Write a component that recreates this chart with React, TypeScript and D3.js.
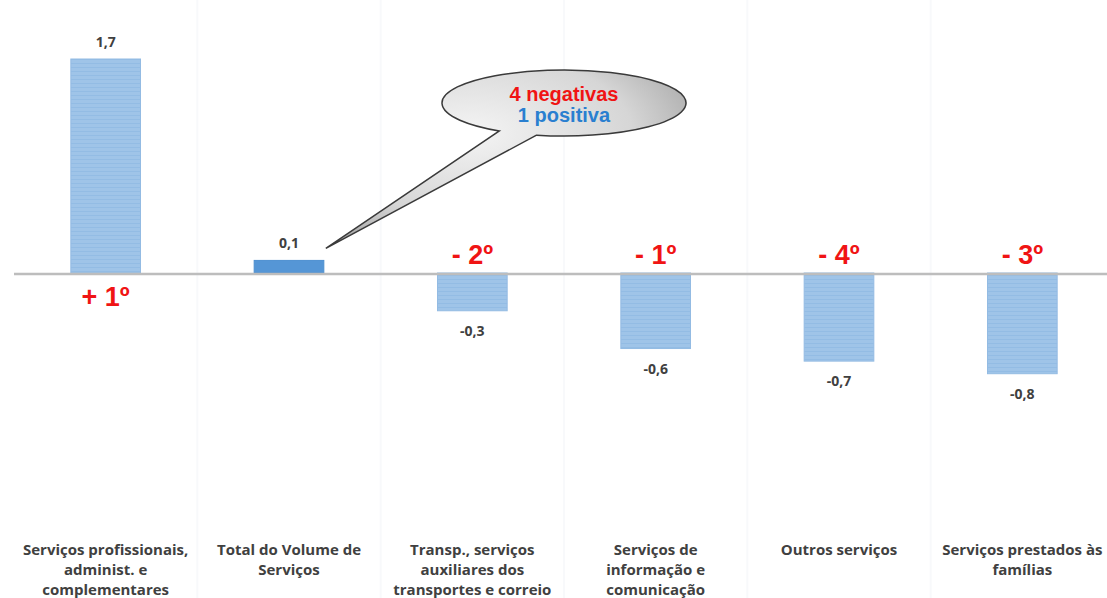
import React from 'react'
import * as d3 from 'd3'

const categories = [
  ['Serviços profissionais,', 'administ. e', 'complementares'],
  ['Total do Volume de', 'Serviços'],
  ['Transp., serviços', 'auxiliares dos', 'transportes e correio'],
  ['Serviços de', 'informação e', 'comunicação'],
  ['Outros serviços'],
  ['Serviços prestados às', 'famílias']
]
const values = [1.7, 0.1, -0.3, -0.6, -0.7, -0.8]
const ranks = ['+ 1º', '', '- 2º', '- 1º', '- 4º', '- 3º']
const totalIndex = 1
const calloutLines = [
  { text: '4 negativas', color: '#f01414' },
  { text: '1 positiva', color: '#2a7fd0' }
]

const W = 1107
const H = 598
const fmt = (v: number) => d3.format('.1f')(v).replace('.', ',').replace('−', '-')

export default function App() {
  const ids = categories.map((_, i) => String(i))
  const x = d3.scaleBand<string>()
    .domain(ids)
    .range([14, 1114])
    .paddingInner(0.62)
    .paddingOuter(0.31)
  const y = d3.scaleLinear().domain([0, 1.7]).range([273, 59])
  const bw = x.bandwidth()
  const step = x.step()

  // callout balloon: ellipse with tail pointing to the total bar label
  const cx = 564, cy = 103, rx = 122, ry = 33
  const pt = (deg: number) => {
    const a = (deg * Math.PI) / 180
    return [cx + rx * Math.cos(a), cy + ry * Math.sin(a)]
  }
  const b1 = pt(122)
  const b2 = pt(103)
  const tip = [x('1')! + bw + 2, y(0.1) - 12]
  const balloon = `M${b2[0]},${b2[1]} L${tip[0]},${tip[1]} L${b1[0]},${b1[1]} A${rx},${ry} 0 1 1 ${b2[0]},${b2[1]} Z`

  return (
    <div style={{ position: 'absolute', left: 0, top: 0 }}>
      <svg width={W} height={H} style={{ display: 'block', background: '#fff' }}>
        <defs>
          <pattern id="stripes" width="8" height="4" patternUnits="userSpaceOnUse">
            <rect width="8" height="4" fill="#9fc4e8" />
            <rect y="3" width="8" height="1" fill="#93bce4" />
          </pattern>
          <radialGradient id="balloonFill" cx="0.4" cy="0.35" r="0.75">
            <stop offset="0" stopColor="#f4f4f4" />
            <stop offset="0.6" stopColor="#d6d6d6" />
            <stop offset="1" stopColor="#9c9c9c" />
          </radialGradient>
        </defs>

        {/* faint column separators */}
        {ids.slice(1).map(id => (
          <line key={id} x1={x(id)! - (step - bw) / 2} x2={x(id)! - (step - bw) / 2}
            y1={0} y2={H} stroke="#f8f9fb" strokeWidth={2} />
        ))}

        {values.map((v, i) => {
          const id = String(i)
          const top = Math.min(y(v), y(0))
          const h = Math.abs(y(v) - y(0))
          return (
            <rect key={id} x={x(id)} y={top} width={bw} height={h}
              fill={i === totalIndex ? '#5596d6' : 'url(#stripes)'}
              stroke={i === totalIndex ? '#4d8fd0' : '#93bbe3'} strokeWidth={1} />
          )
        })}

        <line x1={14} x2={W} y1={y(0) + 1} y2={y(0) + 1} stroke="#bdbdbd" strokeWidth={2.5} />

        {values.map((v, i) => {
          const id = String(i)
          const cxb = x(id)! + bw / 2
          return (
            <text key={id} x={cxb} y={v >= 0 ? y(v) - 12 : y(v) + 25}
              textAnchor="middle" fontFamily="'Open Sans', Lato, sans-serif"
              fontWeight={700} fontSize={14} fill="#404040">
              {fmt(v)}
            </text>
          )
        })}

        {ranks.map((r, i) => r && (
          <text key={i} x={x(String(i))! + bw / 2} y={values[i] >= 0 ? y(0) + 33 : y(0) - 9}
            textAnchor="middle" fontFamily="'Liberation Sans', Arial, sans-serif"
            fontWeight="bold" fontSize={27} fill="#f01414">
            {r}
          </text>
        ))}

        {categories.map((lines, i) => (
          <text key={i} textAnchor="middle" fontFamily="'Open Sans', Lato, sans-serif"
            fontWeight={700} fontSize={15} fill="#404040">
            {lines.map((l, j) => (
              <tspan key={j} x={x(String(i))! + bw / 2} y={555 + j * 20}>{l}</tspan>
            ))}
          </text>
        ))}

        <path d={balloon} fill="url(#balloonFill)" stroke="#3a3a3a" strokeWidth={1.5} />
        {calloutLines.map((c, i) => (
          <text key={i} x={cx} y={cy - 2 + i * 21} textAnchor="middle"
            fontFamily="'Liberation Sans', Arial, sans-serif" fontWeight="bold"
            fontSize={20} fill={c.color}>
            {c.text}
          </text>
        ))}
      </svg>
    </div>
  )
}
